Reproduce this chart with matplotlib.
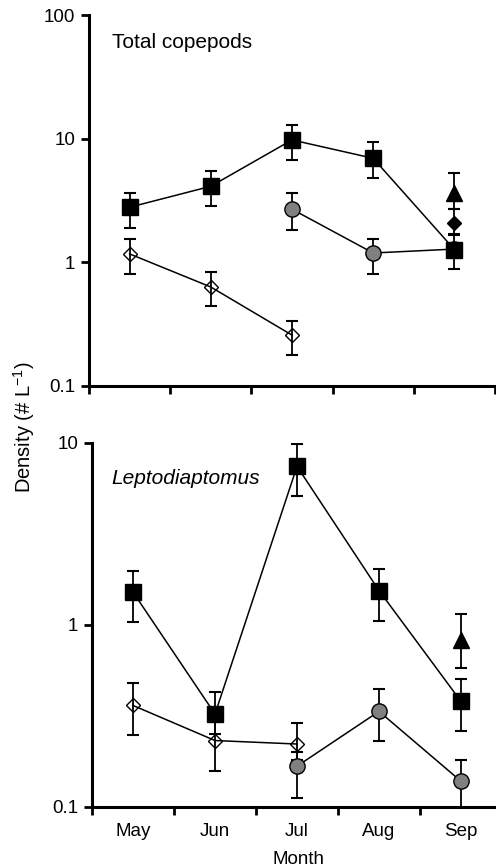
import numpy as np
import matplotlib
matplotlib.use("Agg")
import matplotlib.pyplot as plt
from matplotlib.ticker import FixedLocator, NullFormatter, FixedFormatter, NullLocator

plt.rcParams['font.family'] = ['Liberation Sans', 'DejaVu Sans']
plt.rcParams['mathtext.default'] = 'regular'

nan = np.nan
months = ['May', 'Jun', 'Jul', 'Aug', 'Sep']
y_ticks_top = [0.1, 1, 10, 100]
y_labels_top = ['0.1', '1', '10', '100']
y_ticks_bot = [0.1, 1, 10]
y_labels_bot = ['0.1', '1', '10']

# Total copepods (value, lower bound, upper bound)
tot_sq = [2.79, 4.12, 9.77, 6.94, 1.27]
tot_sq_lo = [1.88, 2.84, 6.73, 4.85, 0.878]
tot_sq_hi = [3.62, 5.45, 12.97, 9.33, 1.69]

tot_circ = [nan, nan, 2.69, 1.19, 1.28]
tot_circ_lo = [nan, nan, 1.81, 0.81, 1.28]
tot_circ_hi = [nan, nan, 3.62, 1.55, 1.28]

tot_dia = [1.17, 0.632, 0.258, nan, nan]
tot_dia_lo = [0.80, 0.442, 0.177, nan, nan]
tot_dia_hi = [1.53, 0.835, 0.336, nan, nan]

tot_tri = [nan, nan, nan, nan, 3.65]
tot_tri_lo = [nan, nan, nan, nan, 2.68]
tot_tri_hi = [nan, nan, nan, nan, 5.29]

tot_fdia = [nan, nan, nan, nan, 2.09]
tot_fdia_lo = [nan, nan, nan, nan, 1.67]
tot_fdia_hi = [nan, nan, nan, nan, 2.68]

# Leptodiaptomus
lep_sq = [1.51, 0.323, 7.41, 1.54, 0.379]
lep_sq_lo = [1.03, 0.25, 5.11, 1.05, 0.261]
lep_sq_hi = [1.98, 0.425, 9.84, 2.02, 0.501]

lep_dia = [0.360, 0.231, 0.221, nan, nan]
lep_dia_lo = [0.248, 0.158, 0.18, nan, nan]
lep_dia_hi = [0.476, 0.30, 0.290, nan, nan]

lep_circ = [nan, nan, 0.167, 0.334, 0.138]
lep_circ_lo = [nan, nan, 0.111, 0.229, 0.094]
lep_circ_hi = [nan, nan, 0.2, 0.443, 0.181]

lep_tri = [nan, nan, nan, nan, 0.827]
lep_tri_lo = [nan, nan, nan, nan, 0.575]
lep_tri_hi = [nan, nan, nan, nan, 1.15]

x = np.arange(len(months)) + 0.5
GRAY = '#808080'


def series(ax, vals, lo, hi, marker, ms, mfc, z):
    v = np.array(vals, dtype=float)
    err = np.array([v - np.array(lo, dtype=float), np.array(hi, dtype=float) - v])
    ax.errorbar(x, v, yerr=err, fmt='none', ecolor='black', elinewidth=1.3,
                capsize=4, capthick=1.5, zorder=z)
    ax.plot(x, v, '-', color='black', lw=1.1, marker=marker, ms=ms, mfc=mfc,
            mec='black', mew=1.0, zorder=z + 0.5)


def style(ax, yticks, ylabels):
    ax.set_yscale('log')
    ax.set_xlim(0, 5)
    ax.spines['top'].set_visible(False)
    ax.spines['right'].set_visible(False)
    for s in ('left', 'bottom'):
        ax.spines[s].set_linewidth(2.2)
    ax.yaxis.set_major_locator(FixedLocator(yticks))
    ax.yaxis.set_major_formatter(FixedFormatter(ylabels))
    ax.yaxis.set_minor_locator(NullLocator())
    ax.xaxis.set_major_locator(FixedLocator([0, 1, 2, 3, 4, 5]))
    ax.xaxis.set_major_formatter(NullFormatter())
    ax.tick_params(axis='both', which='major', direction='out', length=6,
                   width=2, labelsize=13.5, pad=4)


fig = plt.figure(figsize=(4.96, 8.68), dpi=100)

ax1 = fig.add_axes([0.1794, 0.5553, 0.8185, 0.4274])
series(ax1, tot_circ, tot_circ_lo, tot_circ_hi, 'o', 11, GRAY, 2)
series(ax1, tot_dia, tot_dia_lo, tot_dia_hi, 'D', 7, 'none', 3)
series(ax1, tot_sq, tot_sq_lo, tot_sq_hi, 's', 11, 'black', 4)
series(ax1, tot_tri, tot_tri_lo, tot_tri_hi, '^', 11.5, 'black', 4)
series(ax1, tot_fdia, tot_fdia_lo, tot_fdia_hi, 'D', 7.5, 'black', 4)
style(ax1, y_ticks_top, y_labels_top)
ax1.set_ylim(0.1, 100)
ax1.text(0.057, 0.911, 'Total copepods', transform=ax1.transAxes,
         fontsize=15, va='baseline', ha='left')

ax2 = fig.add_axes([0.1855, 0.0706, 0.8266, 0.4194])
series(ax2, lep_dia, lep_dia_lo, lep_dia_hi, 'D', 7, 'none', 2)
series(ax2, lep_circ, lep_circ_lo, lep_circ_hi, 'o', 11, GRAY, 3)
series(ax2, lep_sq, lep_sq_lo, lep_sq_hi, 's', 11, 'black', 4)
series(ax2, lep_tri, lep_tri_lo, lep_tri_hi, '^', 11.5, 'black', 4)
style(ax2, y_ticks_bot, y_labels_bot)
ax2.set_ylim(0.1, 10)
ax2.xaxis.set_minor_locator(FixedLocator(x))
ax2.xaxis.set_minor_formatter(FixedFormatter(months))
ax2.tick_params(axis='x', which='minor', length=0, labelsize=13.5, pad=12)
ax2.text(0.048, 0.887, 'Leptodiaptomus', transform=ax2.transAxes,
         fontsize=15, style='italic', va='baseline', ha='left')

fig.text(299 / 496, 1 - 859 / 868, 'Month', fontsize=13.5, ha='center', va='center')
fig.text(24 / 496, 1 - 427 / 868, r'Density (# L$^{-1}$)', fontsize=14.5,
         rotation=90, ha='center', va='center')

fig.savefig('out.png', dpi=100)
